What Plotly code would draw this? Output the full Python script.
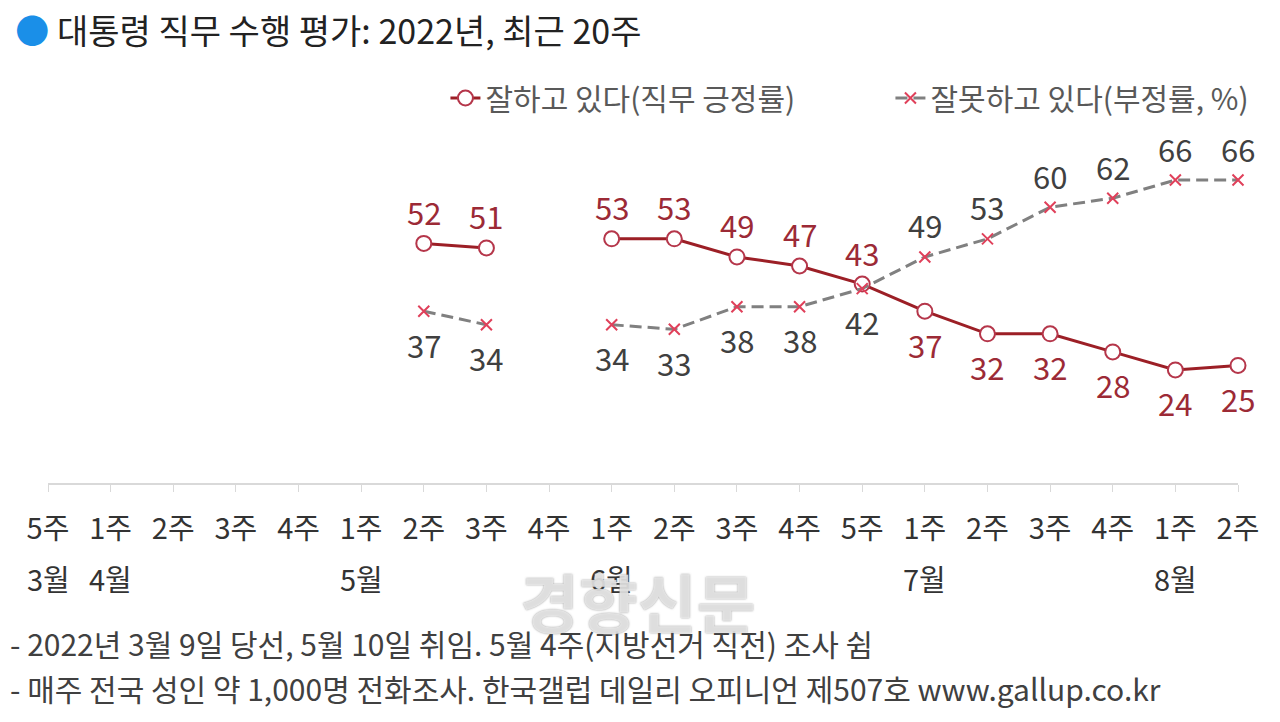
import plotly.graph_objects as go

# Weekly presidential job approval (Gallup Korea), last 20 weeks of 2022
weeks = ["5주", "1주", "2주", "3주", "4주", "1주", "2주", "3주", "4주", "1주",
         "2주", "3주", "4주", "5주", "1주", "2주", "3주", "4주", "1주", "2주"]
months = ["3월", "4월", "5월", "6월", "7월", "8월"]
month_idx = [0, 1, 5, 9, 14, 18]

approve = [None, None, None, None, None, None, 52, 51, None, 53,
           53, 49, 47, 43, 37, 32, 32, 28, 24, 25]
disapprove = [None, None, None, None, None, None, 37, 34, None, 34,
              33, 38, 38, 42, 49, 53, 60, 62, 66, 66]

x = list(range(len(weeks)))
FONT = "Noto Sans CJK KR"

fig = go.Figure()

fig.add_trace(go.Scatter(
    x=x, y=approve, mode="lines+markers",
    name="잘하고 있다(직무 긍정률)",
    line=dict(color="#9c1f26", width=3),
    marker=dict(symbol="circle", size=15, color="white",
                line=dict(color="#b5364a", width=2)),
    cliponaxis=False, legendrank=1,
))
fig.add_trace(go.Scatter(
    x=x, y=disapprove, mode="lines+markers",
    name="잘못하고 있다(부정률, %)",
    line=dict(color="#808080", width=3, dash="12px,6px"),
    marker=dict(symbol="x-thin", size=11, color="#e0405a",
                line=dict(color="#e0405a", width=2)),
    cliponaxis=False, legendrank=2,
))

# value labels: above when the series is the higher one at that week
for i in x:
    a, d = approve[i], disapprove[i]
    if a is None:
        continue
    fig.add_annotation(x=i, y=a, text=str(a), showarrow=False,
                       yshift=32 if a > d else -33,
                       font=dict(family=FONT, size=31, color="#9c2a36"))
    fig.add_annotation(x=i, y=d, text=str(d), showarrow=False,
                       yshift=32 if d > a else -33,
                       font=dict(family=FONT, size=31, color="#404040"))

# month labels under week ticks
for i, m in zip(month_idx, months):
    fig.add_annotation(x=i, y=0, yref="paper", text=m, showarrow=False,
                       yanchor="middle", yshift=-95,
                       font=dict(family=FONT, size=29, color="#333333"))

# footnotes
fig.add_annotation(x=-0.034, y=-0.498, xref="paper", yref="paper",
                   xanchor="left", yanchor="middle",
                   text="- 2022년 3월 9일 당선, 5월 10일 취임. 5월 4주(지방선거 직전) 조사 쉼",
                   showarrow=False, font=dict(family=FONT, size=30, color="#404040"))
fig.add_annotation(x=-0.034, y=-0.639, xref="paper", yref="paper",
                   xanchor="left", yanchor="middle",
                   text="- 매주 전국 성인 약 1,000명 전화조사. 한국갤럽 데일리 오피니언 제507호 www.gallup.co.kr",
                   showarrow=False, font=dict(family=FONT, size=30, color="#404040"))
# watermark
fig.add_annotation(x=0.496, y=-0.365, xref="paper", yref="paper",
                   xanchor="center", yanchor="middle",
                   text="<b>경향신문</b>", showarrow=False,
                   font=dict(family=FONT, size=64, color="rgba(240,240,240,0.8)",
                             shadow="0px 0px 2px rgba(110,110,110,0.9)"))

fig.update_layout(
    width=1280, height=722,
    margin=dict(l=48, r=42, t=162, b=239),
    paper_bgcolor="white", plot_bgcolor="white",
    font=dict(family=FONT, color="#404040"),
    title=dict(
        text="<span style='color:#1a8fe8'>●</span> 대통령 직무 수행 평가: 2022년, 최근 20주",
        x=0.012, xref="container", xanchor="left",
        y=1 - 32 / 722, yref="container", yanchor="middle",
        font=dict(family=FONT, size=34, color="#222222"),
    ),
    legend=dict(
        orientation="h", xref="container", yref="container",
        x=0.348, xanchor="left", y=1 - 98 / 722, yanchor="middle",
        font=dict(family=FONT, size=30, color="#595959"),
        entrywidth=400, bgcolor="rgba(0,0,0,0)",
    ),
    xaxis=dict(
        range=[0, 19], tickvals=x, ticktext=weeks,
        showgrid=False, zeroline=False, automargin=False,
        showline=True, linecolor="#d9d9d9", linewidth=2,
        ticks="outside", ticklen=7, tickcolor="#d9d9d9", tickwidth=1,
        ticklabelstandoff=12,
        tickfont=dict(family=FONT, size=29, color="#333333"),
    ),
    yaxis=dict(range=[-1, 70], visible=False, automargin=False),
)

fig.write_html("out.html", config={"displayModeBar": False},
               post_script="document.body.style.margin='0';")
